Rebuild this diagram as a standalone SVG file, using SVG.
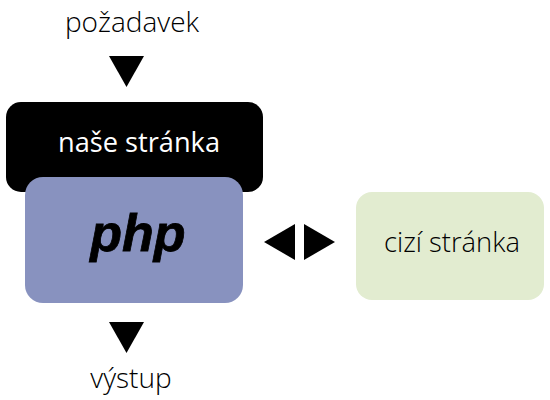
<svg xmlns="http://www.w3.org/2000/svg" width="550" height="400" viewBox="0 0 550 400">
<style>
text{font-family:"Open Sans","Noto Sans",sans-serif;font-size:28px;font-weight:300;text-anchor:middle}
.a{fill:#000}
.w{font-weight:400;fill:#fff}
.p{font-family:"Liberation Sans",Arial,sans-serif;font-size:52px;font-weight:700;font-style:italic}
</style>
<rect width="550" height="400" fill="#fff"/>
<g id="connectors">
<polygon class="a" points="109,56 144,56 126.500,87"/>
<polygon class="a" points="109,322 144,322 126.500,353"/>
<polygon class="a" points="295,224 295,260 264,242"/>
<polygon class="a" points="304,224 304,260 335,242"/>
</g>
<g id="pozadavek"><text x="132" y="32">požadavek</text></g>
<g id="nase"><rect x="6" y="102" width="257" height="90" rx="15" fill="#000"/><text class="w" x="139" y="152" textLength="162" lengthAdjust="spacingAndGlyphs">naše stránka</text></g>
<g id="php"><rect x="25" y="177" width="218" height="126" rx="18" fill="#8892bf"/>
<text class="p" x="138" y="251" stroke="#000" stroke-width="0.8">php</text></g>
<g id="cizi"><rect x="356" y="192" width="188" height="108" rx="16" fill="#e2ecd0"/><text x="452" y="252" textLength="136" lengthAdjust="spacingAndGlyphs">cizí stránka</text></g>
<g id="vystup"><text x="131" y="388">výstup</text></g>
</svg>
